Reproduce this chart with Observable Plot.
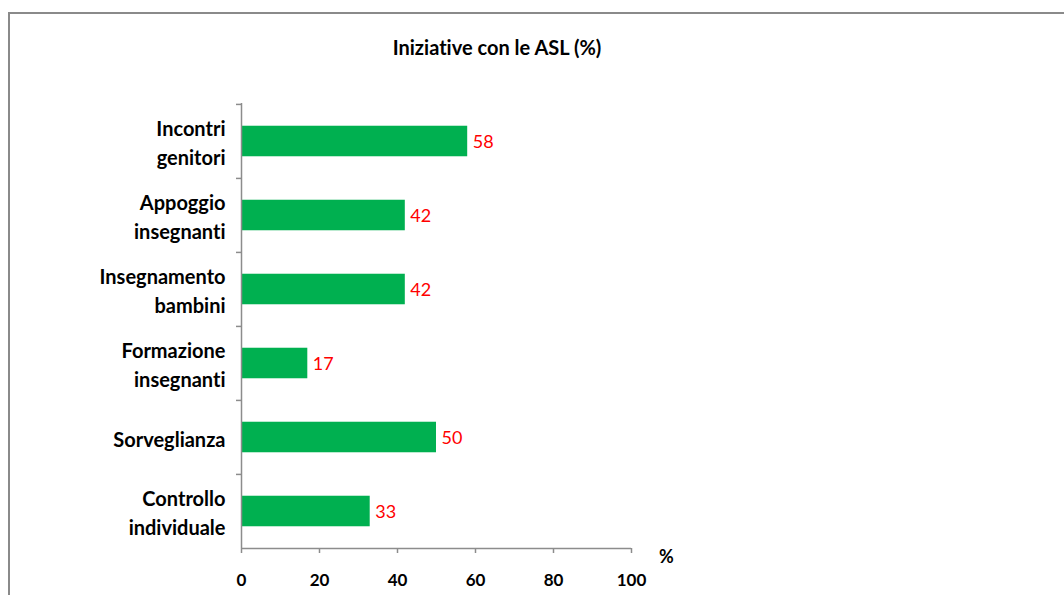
<!DOCTYPE html>
<html>
<head>
<meta charset="utf-8">
<script src="https://cdn.jsdelivr.net/npm/d3@7"></script>
<script src="https://cdn.jsdelivr.net/npm/@observablehq/plot@0.6"></script>
<style>
  html, body { margin: 0; padding: 0; background: #fff; overflow: hidden; }
  #wrap { position: relative; width: 1064px; height: 595px; font-family: Lato, "Open Sans", sans-serif;
          font-variant-ligatures: none; }
  #frame { position: absolute; left: 8px; top: 12px; width: 1200px; height: 700px;
           border-top: 2px solid #8a8a8a; border-left: 2px solid #8a8a8a; box-sizing: border-box; }
  #title { position: absolute; left: 0; width: 994px; top: 35px; text-align: center;
           font-weight: bold; font-size: 20px; color: #000; }
  #chart { position: absolute; left: 0; top: 0; }
  #chart svg { font-variant-ligatures: none; }
  #unit { position: absolute; left: 659px; top: 545px; font-weight: bold; font-size: 18px; }
</style>
</head>
<body>
<div id="wrap">
  <div id="frame"></div>
  <div id="title">Iniziative con le ASL (%)</div>
  <div id="chart"></div>
  <div id="unit">%</div>
</div>
<script>
const categories = [
  "Incontri\ngenitori",
  "Appoggio\ninsegnanti",
  "Insegnamento\nbambini",
  "Formazione\ninsegnanti",
  "Sorveglianza",
  "Controllo\nindividuale"
];
const values = [58, 42, 42, 17, 50, 33];
const xTicks = [0, 20, 40, 60, 80, 100];

const data = categories.map((c, i) => ({category: c, value: values[i]}));

const W = 1064, H = 595;
const mTop = 103, mBottom = 47, mLeft = 241, mRight = 433;
const band = (H - mTop - mBottom) / categories.length;
const barH = 30.7;
const inset = (band - barH) / 2;

const chart = Plot.plot({
  width: W,
  height: H,
  marginTop: mTop,
  marginBottom: mBottom,
  marginLeft: mLeft,
  marginRight: mRight,
  style: { fontFamily: "Lato, 'Open Sans', sans-serif", background: "transparent", overflow: "visible" },
  x: { domain: [0, 100] },
  y: { domain: categories, padding: 0 },
  marks: [
    Plot.barX(data, { y: "category", x: "value", fill: "#00B050", insetTop: inset, insetBottom: inset }),
    Plot.text(data, { y: "category", x: "value", text: d => String(d.value), textAnchor: "start",
                      dx: 5, fill: "#FF0000", fontSize: 18, dy: 1 }),
    // y axis line
    Plot.ruleX([0], { stroke: "#8c8c8c", strokeWidth: 1.5 }),
    // x axis line
    Plot.ruleY([0], { y: () => categories[categories.length - 1], dy: band / 2, stroke: "#8c8c8c", strokeWidth: 1.5 }),
    // category boundary ticks
    Plot.axisY({ tickSize: 5, text: null, label: null, dy: -band / 2, stroke: "#8c8c8c", strokeWidth: 1.5 }),
    // category labels
    Plot.axisY({ tickSize: 0, tickPadding: 16, fontSize: 20, fontWeight: "bold", fill: "#000",
                 lineHeight: 1.45, label: null }),
    Plot.axisX({ ticks: xTicks, tickSize: 5, tickPadding: 20, fontSize: 17, fontWeight: "bold",
                 fill: "#000", stroke: "#8c8c8c", strokeWidth: 1.5, label: null, tickFormat: d => String(d) })
  ]
});
document.getElementById("chart").appendChild(chart);
</script>
</body>
</html>
